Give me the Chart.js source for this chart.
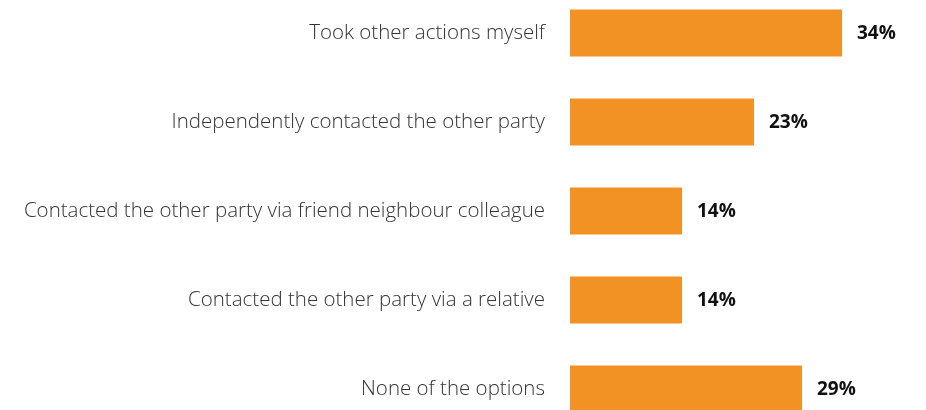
<!DOCTYPE html>
<html>
<head>
<meta charset="utf-8">
<script src="https://cdn.jsdelivr.net/npm/chart.js@4/dist/chart.umd.min.js"></script>
<style>
html,body{margin:0;padding:0;background:#fff;}
#wrap{width:926px;height:410px;position:relative;}
</style>
</head>
<body>
<div id="wrap"><canvas id="c" width="926" height="410"></canvas></div>
<script>
const categories = [
  "Took other actions myself",
  "Independently contacted the other party",
  "Contacted the other party via friend neighbour colleague",
  "Contacted the other party via a relative",
  "None of the options"
];
const values = [34, 23, 14, 14, 29];
const valueLabels = ["34%", "23%", "14%", "14%", "29%"];

const valueLabelPlugin = {
  id: 'valueLabels',
  afterDatasetsDraw(chart) {
    const ctx = chart.ctx;
    const meta = chart.getDatasetMeta(0);
    ctx.save();
    ctx.font = 'bold 19px "Open Sans"';
    ctx.fillStyle = '#111';
    ctx.textAlign = 'left';
    ctx.textBaseline = 'middle';
    meta.data.forEach((bar, i) => {
      ctx.fillText(valueLabels[i], bar.x + 15, bar.y + 1);
    });
    ctx.restore();
  }
};

new Chart(document.getElementById('c'), {
  type: 'bar',
  data: {
    labels: categories,
    datasets: [{
      data: values,
      backgroundColor: '#F39224',
      borderWidth: 0,
      categoryPercentage: 1,
      barPercentage: 0.53,
      clip: false
    }]
  },
  options: {
    indexAxis: 'y',
    responsive: false,
    animation: false,
    layout: { padding: { top: 33, bottom: 21, left: 0, right: 36 } },
    plugins: { legend: { display: false }, tooltip: { enabled: false } },
    scales: {
      x: {
        min: 0, max: 40,
        display: false,
        grid: { display: false }
      },
      y: {
        offset: false,
        grid: { display: false, drawTicks: false },
        border: { display: false },
        ticks: {
          color: '#333',
          padding: 25,
          font: { family: 'Open Sans', size: 20.5, weight: '300' }
        },
        afterFit(scale) {
          scale.width = 570;
          scale.paddingTop = 0;
          scale.paddingBottom = 0;
        }
      }
    }
  },
  plugins: [valueLabelPlugin]
});
</script>
</body>
</html>
